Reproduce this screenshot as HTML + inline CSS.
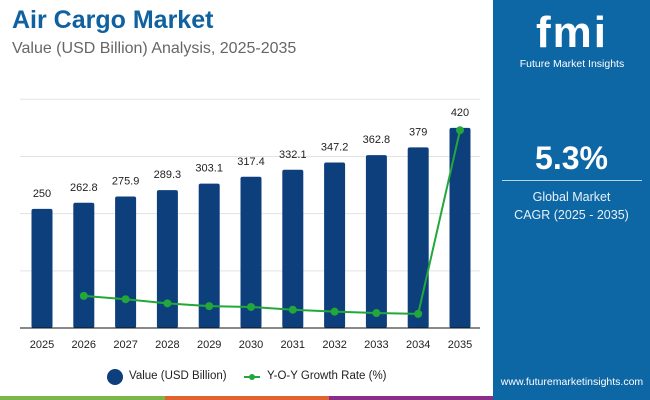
<!DOCTYPE html>
<html><head><meta charset="utf-8"><style>
body{margin:0;width:650px;height:400px;overflow:hidden;background:#fff;font-family:"Liberation Sans",sans-serif;position:relative}
.t{position:absolute;white-space:nowrap}
</style></head><body>
<div class="t" style="left:12px;top:6px;font-size:25px;font-weight:bold;color:#0f619f">Air Cargo Market</div>
<div class="t" style="left:12px;top:40px;font-size:16px;color:#666">Value (USD Billion) Analysis, 2025-2035</div>
<div style="position:absolute;left:493px;top:0;width:157px;height:400px;background:#0e67a5"></div>
<div class="t" style="left:517px;top:8px;width:110px;text-align:center;font-size:44px;font-weight:bold;color:#fff;letter-spacing:2px">fmi</div>
<div class="t" style="left:510px;top:58px;width:124px;text-align:center;font-size:10.5px;color:#fff">Future Market Insights</div>
<div class="t" style="left:500px;top:140px;width:143px;text-align:center;font-size:32px;font-weight:bold;color:#fff">5.3%</div>
<div style="position:absolute;left:502px;top:180px;width:140px;height:1px;background:#b8d3ea"></div>
<div class="t" style="left:500px;top:188px;width:143px;text-align:center;font-size:12.5px;line-height:18px;color:#e8f1f8">Global Market<br>CAGR (2025 - 2035)</div>
<div class="t" style="left:497px;top:376px;width:150px;text-align:center;font-size:10.5px;color:#fff">www.futuremarketinsights.com</div>
<div style="position:absolute;left:0;top:396px;width:165px;height:4px;background:#7ab648"></div>
<div style="position:absolute;left:165px;top:396px;width:164px;height:4px;background:#e0622e"></div>
<div style="position:absolute;left:329px;top:396px;width:164px;height:4px;background:#8a2e8a"></div>
<svg id="c" width="493" height="396" style="position:absolute;left:0;top:0"></svg>
<script>
const years=["2025","2026","2027","2028","2029","2030","2031","2032","2033","2034","2035"];
const values=[250,262.8,275.9,289.3,303.1,317.4,332.1,347.2,362.8,379,420];
const valueLabels=["250","262.8","275.9","289.3","303.1","317.4","332.1","347.2","362.8","379","420"];
const growth=[null,5.12,5.0,4.85,4.75,4.72,4.62,4.55,4.5,4.47,11.1];
const gridTicks=[0,120,240,360,480];
const NS="http://www.w3.org/2000/svg";
const svg=document.getElementById('c');
const base=328,k=0.4765;
const x=i=>42+i*41.8;
const y=v=>base-v*k;
const gy=g=>base-(g-3.96)*27.7;
function el(t,a){const e=document.createElementNS(NS,t);for(const n in a)e.setAttribute(n,a[n]);svg.appendChild(e);return e;}
gridTicks.forEach(t=>{if(t===0)return;const l=el('line',{x1:20,x2:480,y1:y(t),y2:y(t),stroke:'#e3e3e3','stroke-width':1});

});
values.forEach((v,i)=>{
const r=el('rect',{x:x(i)-10.5,y:y(v),width:21,height:v*k,fill:'#0d3f7d',rx:2});


const t=el('text',{x:x(i),y:y(v)-12,'text-anchor':'middle','font-size':11,fill:'#222','font-family':'Liberation Sans'});
t.textContent=valueLabels[i];


const a=el('text',{x:x(i),y:348,'text-anchor':'middle','font-size':11,fill:'#222','font-family':'Liberation Sans'});
a.textContent=years[i];


});
const ax=el('line',{x1:20,x2:480,y1:base,y2:base,stroke:'#111','stroke-width':1});


let pts=[];growth.forEach((g,i)=>{if(g!==null)pts.push(x(i)+','+gy(g));});
const pl=el('polyline',{points:pts.join(' '),fill:'none',stroke:'#22a83a','stroke-width':2});


growth.forEach((g,i)=>{if(g===null)return;const c=el('circle',{cx:x(i),cy:gy(g),r:4,fill:'#22a83a'});

});
</script>
<div style="position:absolute;left:105px;top:368px;height:18px;font-size:11.5px;color:#222">
<span style="position:absolute;left:2px;top:1px;width:16px;height:16px;border-radius:50%;background:#0d3f7d"></span>
<span class="t" style="left:24px;top:2px">Value (USD Billion)</span>
<span style="position:absolute;left:139px;top:8px;width:16px;height:2px;background:#22a83a"></span>
<span style="position:absolute;left:144px;top:6px;width:6px;height:6px;border-radius:50%;background:#22a83a"></span>
<span class="t" style="left:162px;top:2px">Y-O-Y Growth Rate (%)</span>
</div>
</body></html>
